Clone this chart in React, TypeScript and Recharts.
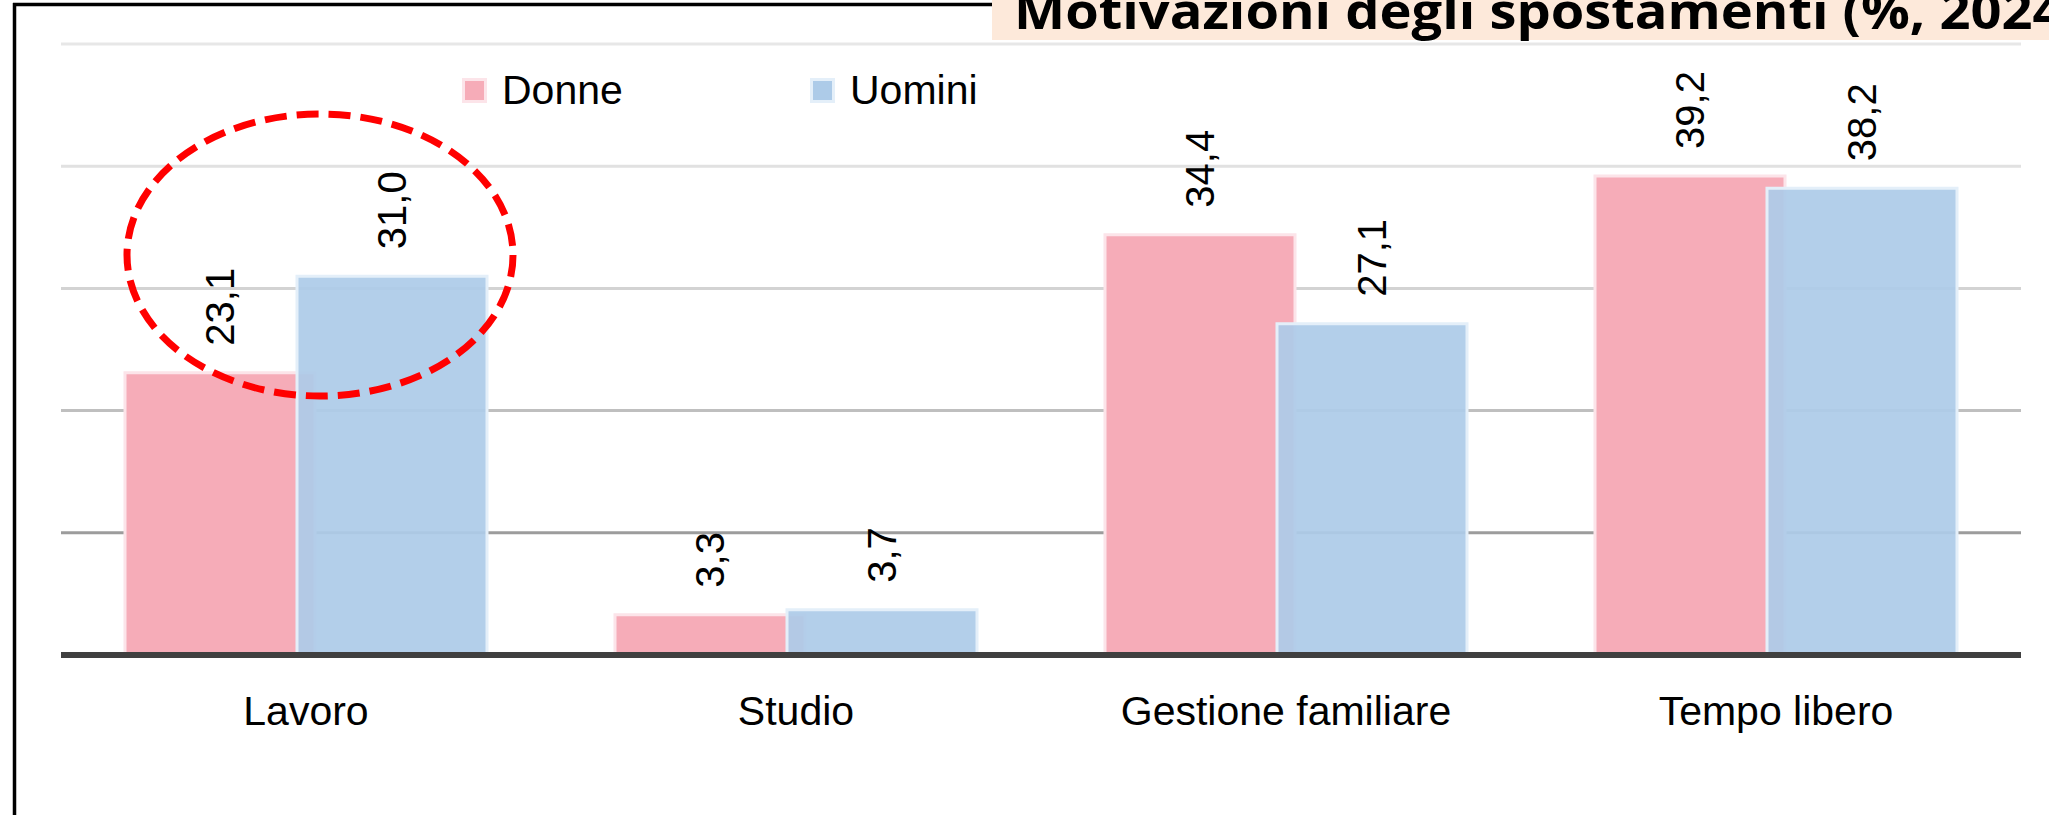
import { BarChart, Bar, XAxis, YAxis, CartesianGrid, LabelList } from 'recharts';

const categories = ['Lavoro', 'Studio', 'Gestione familiare', 'Tempo libero'];
const donne = [23.1, 3.3, 34.4, 39.2];
const uomini = [31.0, 3.7, 27.1, 38.2];
const yTicks = [0, 10, 20, 30, 40, 50];
const seriesNames = ['Donne', 'Uomini'];
const title = 'Motivazioni degli spostamenti (%, 2024)';

const pink = '#F6ACB8';
const pinkEdge = '#FCE4E9';
const blue = '#ADCBE8';
const blueEdge = '#E4EFF9';
const gridColors = ['#404040', '#9C9C9C', '#BFBFBF', '#D3D3D3', '#E1E1E1', '#E7E7E7'];
const font = '"Liberation Sans", Arial, sans-serif';

const data = categories.map((name, i) => ({ name, donne: donne[i], uomini: uomini[i] }));

const renderValue = (props: any) => {
  const { x, y, width, value } = props;
  const cx = Number(x) + Number(width) / 2;
  const ty = Number(y) - 27;
  return (
    <text
      x={cx}
      y={ty}
      transform={`rotate(-90 ${cx} ${ty})`}
      textAnchor="start"
      dominantBaseline="central"
      fontSize={40}
      fontFamily={font}
      fill="#000"
    >
      {Number(value).toFixed(1).replace('.', ',')}
    </text>
  );
};

const renderTick = (props: any) => {
  const { x, y, payload } = props;
  return (
    <text x={x} y={y} dy={70} textAnchor="middle" fontSize={41} fontFamily={font} fill="#000">
      {payload.value}
    </text>
  );
};

const renderGridLine = (props: any) => {
  const { x1, y1, x2, y2, index } = props;
  return (
    <line
      key={`g-${index}`}
      x1={x1}
      y1={y1}
      x2={x2}
      y2={y2}
      stroke={gridColors[index] ?? '#DDDDDD'}
      strokeWidth={3}
    />
  );
};

export default function App() {
  const legendColors = [
    [pink, pinkEdge],
    [blue, blueEdge],
  ];
  return (
    <div
      style={{
        position: 'absolute',
        left: 0,
        top: 0,
        width: 2049,
        height: 815,
        background: '#fff',
        overflow: 'hidden',
      }}
    >
      <BarChart
        width={2049}
        height={815}
        data={data}
        margin={{ top: 44, right: 28, bottom: 100, left: 61 }}
        barGap={-18}
      >
        <CartesianGrid vertical={false} horizontal={renderGridLine} />
        <YAxis hide width={0} domain={[0, 50]} ticks={yTicks} />
        <XAxis
          dataKey="name"
          height={60}
          interval={0}
          tickLine={false}
          tickSize={0}
          tickMargin={0}
          axisLine={{ stroke: '#404040', strokeWidth: 6 }}
          tick={renderTick}
        />
        <Bar
          dataKey="donne"
          name={seriesNames[0]}
          fill={pink}
          stroke={pinkEdge}
          strokeWidth={3}
          barSize={190}
          isAnimationActive={false}
        >
          <LabelList dataKey="donne" content={renderValue} />
        </Bar>
        <Bar
          dataKey="uomini"
          name={seriesNames[1]}
          fill={blue}
          fillOpacity={0.93}
          stroke={blueEdge}
          strokeWidth={3}
          barSize={190}
          isAnimationActive={false}
        >
          <LabelList dataKey="uomini" content={renderValue} />
        </Bar>
      </BarChart>

      {/* legend */}
      <div style={{ position: 'absolute', left: 462, top: 68, display: 'flex', height: 45 }}>
        {seriesNames.map((n, i) => (
          <div key={n} style={{ width: 348, display: 'flex', alignItems: 'center' }}>
            <div
              style={{
                width: 19,
                height: 19,
                background: legendColors[i][0],
                border: `3px solid ${legendColors[i][1]}`,
                marginRight: 15,
              }}
            />
            <span style={{ fontFamily: font, fontSize: 41, color: '#000', lineHeight: 1 }}>{n}</span>
          </div>
        ))}
      </div>

      {/* title box */}
      <div
        style={{
          position: 'absolute',
          left: 992,
          top: 0,
          width: 1057,
          height: 40,
          background: '#FDE9DA',
        }}
      />

      <svg
        width={2049}
        height={815}
        style={{ position: 'absolute', left: 0, top: 0, pointerEvents: 'none' }}
      >
        <line x1={14.5} y1={3} x2={14.5} y2={815} stroke="#000" strokeWidth={3.5} />
        <line x1={13} y1={4.5} x2={992} y2={4.5} stroke="#000" strokeWidth={3.5} />
        <text
          transform="translate(1014 29) scale(1.13 1.05)"
          fontFamily='"Open Sans", sans-serif'
          fontWeight={700}
          fontSize={48}
          fill="#000"
        >
          {title}
        </text>
        <ellipse
          cx={320}
          cy={255}
          rx={193}
          ry={141}
          fill="none"
          stroke="#FF0000"
          strokeWidth={7}
          strokeDasharray="22 10"
        />
      </svg>
    </div>
  );
}
